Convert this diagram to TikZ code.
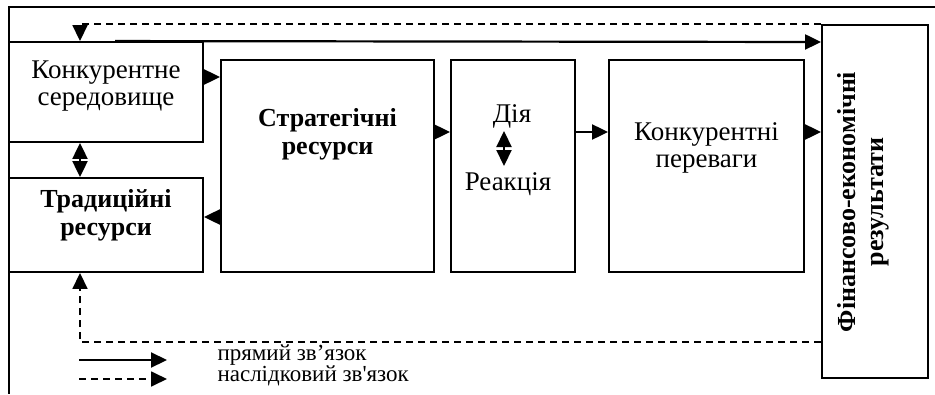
\documentclass[tikz,border=0pt]{standalone}
\usepackage{fontspec}
\setmainfont{Liberation Serif}
\newfontfamily\rawserif{Liberation Serif}[Ligatures=TeXOff]
\usetikzlibrary{arrows.meta}

\tikzset{
  box/.style={draw, line width=1.9pt, inner sep=0pt},
  txt/.style={align=center, font=\fontsize{27}{27}\selectfont},
  btxt/.style={align=center, font=\fontsize{26}{28}\selectfont\bfseries},
  tip/.style={-{Triangle[length=16pt,width=15pt]}},
  arr/.style={tip, line width=2.2pt},
  darr/.style={tip, line width=1.8pt, dash pattern=on 7pt off 5pt},
  dbl/.style={{Triangle[length=16pt,width=15pt]}-{Triangle[length=16pt,width=15pt]}, line width=2.2pt},
  legtxt/.style={anchor=west, font=\fontsize{23}{23}\selectfont}
}

\begin{document}
\begin{tikzpicture}[x=1pt,y=-1pt]
\useasboundingbox (0,0) rectangle (935,394);

% open outer frame
\draw[line width=1.6pt] (935,7) -- (9,7) -- (9,394);

% boxes
\node[box, minimum width=194pt, minimum height=100pt] (env)   at (106,92)    {};
\node[box, minimum width=194pt, minimum height=94pt]  (trad)  at (106,225)   {};
\node[box, minimum width=213pt, minimum height=212pt] (strat) at (327.5,166) {};
\node[box, minimum width=124pt, minimum height=212pt] (dia)   at (513,166)   {};
\node[box, minimum width=195pt, minimum height=212pt] (adv)   at (706.5,166) {};
\node[box, minimum width=106pt, minimum height=353pt] (fin)   at (875,201.5) {};

% box texts
\node[txt]  (envt)   at (106,86)  {Конкурентне\\середовище};
\node[btxt] (tradt)  at (106,215) {Традиційні\\ресурси};
\node[btxt] (stratt) at (327.5,134) {Стратегічні\\ресурси};
\node[txt]  (diyat)  at (512,116) {Дія};
\node[txt]  (reakt)  at (508,184) {Реакція};
\node[txt]  (advt)   at (706.5,148) {Конкурентні\\переваги};
\node[btxt, rotate=90] (fint) at (863,202) {Фінансово-економічні\\результати};

% direct links
\draw[arr] (env.east |- 0,77) -- (strat.west |- 0,77);
\draw[arr] (strat.east |- 0,132) -- (dia.west |- 0,132);
\draw[arr] (dia.east |- 0,132) -- (adv.west |- 0,132);
\draw[arr] (adv.east |- 0,132) -- (fin.west |- 0,132);
\draw[arr] (strat.west |- 0,217) -- (trad.east |- 0,217);
\draw[dbl] (env.south -| 80,0) -- (trad.north -| 80,0);
\draw[dbl] (504,131) -- (504,166);
\draw[arr] (env.north -| 115,0) -- (fin.west |- 0,42);

% feedback links
\draw[darr] (fin.north west) -| (env.north -| 80,0);
\draw[darr] (fin.west |- 0,342) -| (trad.south -| 80,0);

% legend
\coordinate (ls1) at (79,360);
\coordinate (le1) at (167,360);
\coordinate (ls2) at (79,379);
\coordinate (le2) at (167,379);
\draw[arr] (ls1) -- (le1);
\draw[darr] (ls2) -- (le2);
\node[legtxt] (leg1) at (214,355) {прямий зв’язок};
\node[legtxt] (leg2) at (214,376) {наслідковий зв{\rawserif'}язок};
\end{tikzpicture}
\end{document}
